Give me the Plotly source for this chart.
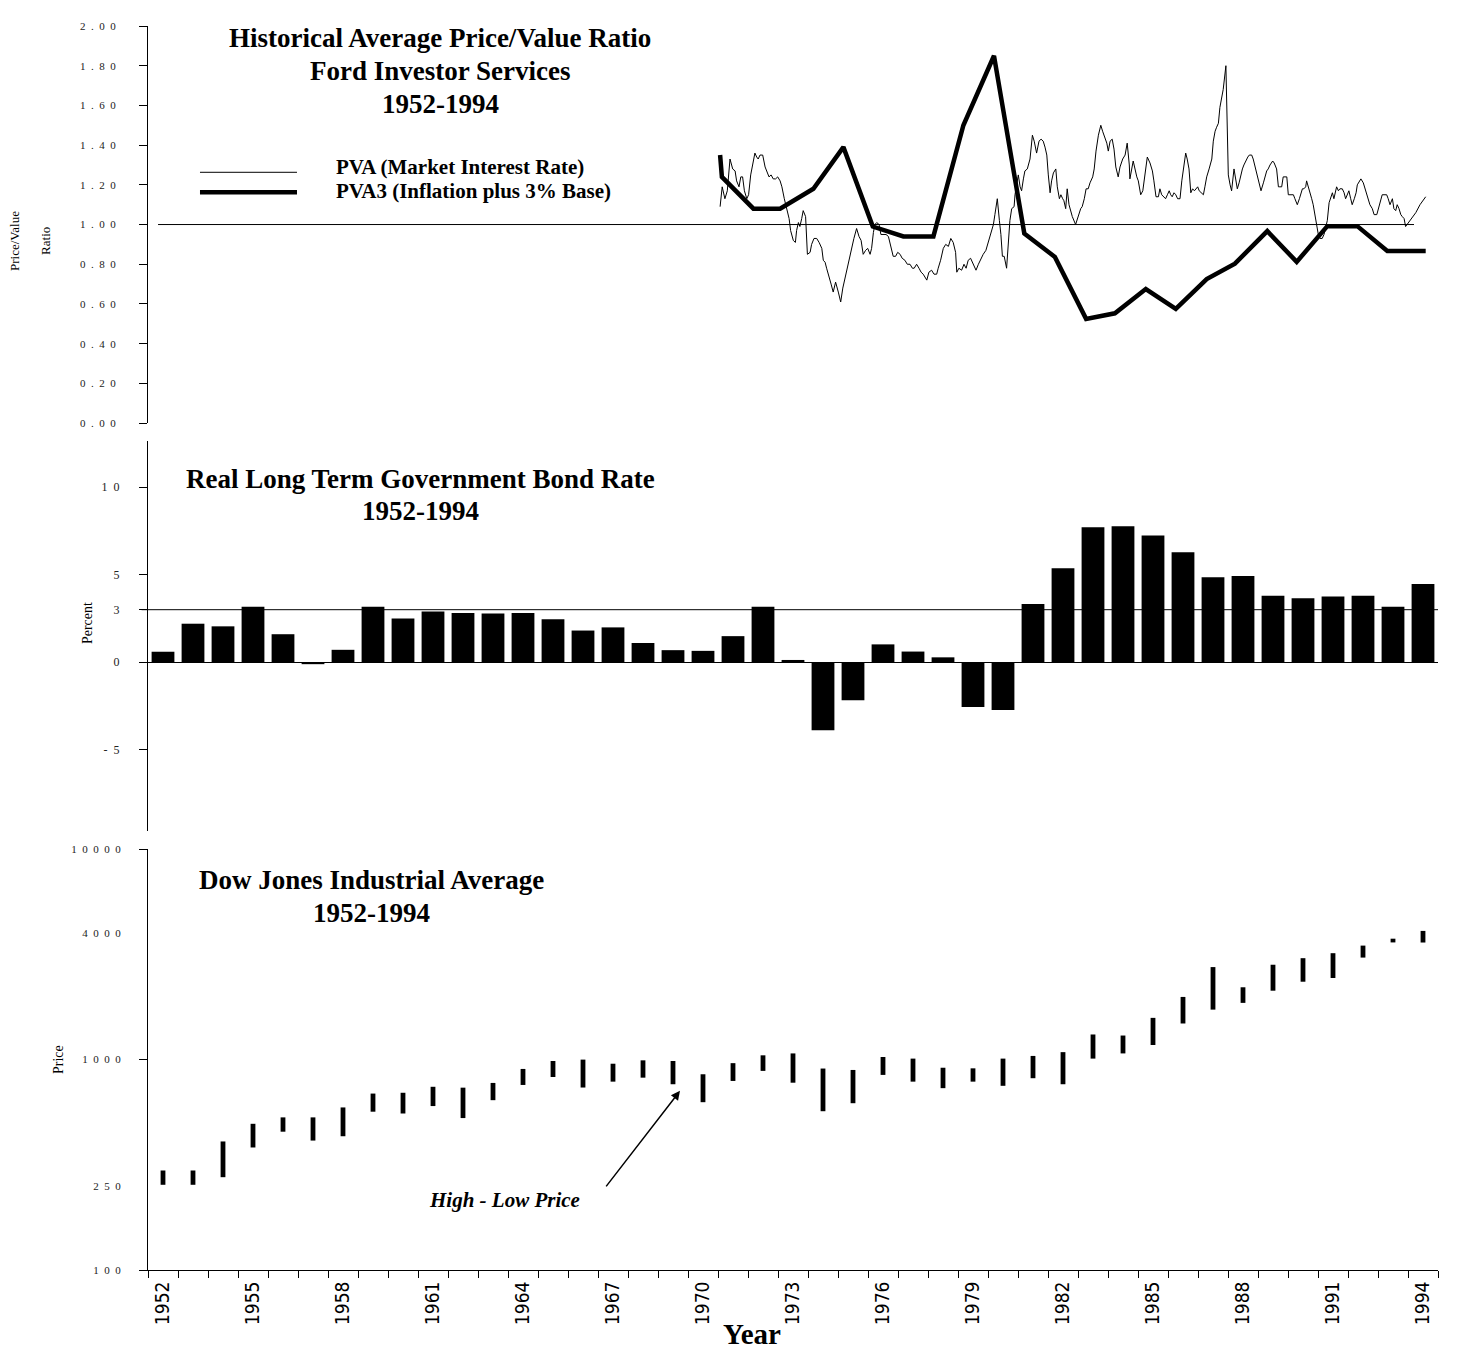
import plotly.graph_objects as go

# ---------------- data ----------------
years = list(range(1952, 1995))

# Real long term government bond rate (percent)
bond_rate = [0.60, 2.20, 2.05, 3.17, 1.60, -0.11, 0.71, 3.17, 2.50, 2.89,
             2.81, 2.78, 2.81, 2.46, 1.81, 1.99, 1.10, 0.69, 0.65, 1.49,
             3.17, 0.13, -3.88, -2.17, 1.02, 0.61, 0.28, -2.56, -2.72, 3.32,
             5.37, 7.70, 7.76, 7.24, 6.28, 4.85, 4.93, 3.80, 3.66, 3.76,
             3.80, 3.17, 4.46]

# Dow Jones Industrial Average yearly high / low
djia_high = [297, 297, 408, 495, 531, 531, 592, 689, 695, 742,
             735, 774, 902, 984, 999, 955, 991, 984, 851, 961,
             1047, 1069, 906, 892, 1028, 1010, 914, 908, 1010, 1040,
             1084, 1315, 1300, 1577, 1983, 2749, 2204, 2820, 3030, 3200,
             3477, 3750, 4083]
djia_low = [254, 254, 276, 382, 454, 412, 432, 565, 554, 601,
            527, 641, 757, 826, 736, 785, 820, 763, 627, 791,
            883, 776, 568, 620, 845, 785, 731, 785, 750, 815,
            763, 1010, 1069, 1172, 1483, 1726, 1858, 2123, 2342, 2440,
            3050, 3600, 3596]

# PVA (Market Interest Rate) - monthly-ish readings
pva_year = [1970.57, 1970.64, 1970.73, 1970.81, 1970.90, 1970.99, 1971.07, 1971.12, 1971.20, 1971.26,
            1971.32, 1971.38, 1971.46, 1971.52, 1971.59, 1971.66, 1971.73, 1971.79, 1971.84, 1971.90,
            1971.99, 1972.07, 1972.14, 1972.20, 1972.27, 1972.34, 1972.42, 1972.49, 1972.57, 1972.63,
            1972.71, 1972.79, 1972.87, 1972.92, 1973.01, 1973.08, 1973.12, 1973.18, 1973.23, 1973.29,
            1973.34, 1973.42, 1973.48, 1973.57, 1973.62, 1973.70, 1973.79, 1973.87, 1973.96, 1974.01,
            1974.07, 1974.12, 1974.20, 1974.27, 1974.34, 1974.42, 1974.51, 1974.59, 1974.66, 1974.73,
            1974.81, 1974.88, 1974.96, 1975.03, 1975.12, 1975.20, 1975.27, 1975.34, 1975.42, 1975.49,
            1975.57, 1975.62, 1975.68, 1975.73, 1975.79, 1975.87, 1975.93, 1976.01, 1976.10, 1976.18,
            1976.23, 1976.29, 1976.34, 1976.42, 1976.49, 1976.57, 1976.64, 1976.73, 1976.81, 1976.90,
            1976.98, 1977.04, 1977.12, 1977.20, 1977.27, 1977.34, 1977.46, 1977.53, 1977.62, 1977.70,
            1977.79, 1977.84, 1977.92, 1978.01, 1978.09, 1978.18, 1978.26, 1978.34, 1978.42, 1978.46,
            1978.53, 1978.62, 1978.70, 1978.77, 1978.84, 1978.92, 1979.01, 1979.10, 1979.18, 1979.26,
            1979.34, 1979.43, 1979.51, 1979.59, 1979.68, 1979.73, 1979.81, 1979.88, 1979.93, 1979.98,
            1980.04, 1980.12, 1980.18, 1980.23, 1980.29, 1980.37, 1980.40, 1980.46, 1980.51, 1980.57,
            1980.62, 1980.68, 1980.73, 1980.81, 1980.90, 1980.98, 1981.04, 1981.12, 1981.20, 1981.27,
            1981.34, 1981.40, 1981.46, 1981.51, 1981.57, 1981.62, 1981.68, 1981.76, 1981.81, 1981.88,
            1981.93, 1981.99, 1982.03, 1982.09, 1982.14, 1982.20, 1982.26, 1982.31, 1982.42, 1982.51,
            1982.59, 1982.64, 1982.71, 1982.77, 1982.84, 1982.90, 1982.99, 1983.04, 1983.10, 1983.18,
            1983.26, 1983.32, 1983.40, 1983.46, 1983.51, 1983.57, 1983.64, 1983.70, 1983.76, 1983.84,
            1983.90, 1983.99, 1984.07, 1984.14, 1984.21, 1984.23, 1984.34, 1984.40, 1984.46, 1984.51,
            1984.59, 1984.66, 1984.73, 1984.81, 1984.90, 1984.98, 1985.03, 1985.10, 1985.18, 1985.23,
            1985.29, 1985.34, 1985.42, 1985.48, 1985.54, 1985.59, 1985.64, 1985.70, 1985.76, 1985.82,
            1985.90, 1985.96, 1986.01, 1986.09, 1986.14, 1986.20, 1986.26, 1986.32, 1986.38, 1986.43,
            1986.49, 1986.54, 1986.62, 1986.68, 1986.73, 1986.79, 1986.87, 1986.96, 1987.01, 1987.07,
            1987.12, 1987.18, 1987.23, 1987.29, 1987.34, 1987.43, 1987.51, 1987.57, 1987.62, 1987.70,
            1987.76, 1987.81, 1987.87, 1987.92, 1987.98, 1988.03, 1988.09, 1988.16, 1988.21, 1988.29,
            1988.34, 1988.42, 1988.48, 1988.54, 1988.60, 1988.68, 1988.73, 1988.79, 1988.84, 1988.90,
            1988.99, 1989.04, 1989.12, 1989.18, 1989.23, 1989.29, 1989.34, 1989.40, 1989.46, 1989.51,
            1989.57, 1989.62, 1989.68, 1989.73, 1989.81, 1989.88, 1989.92, 1989.98, 1990.03, 1990.09,
            1990.12, 1990.18, 1990.23, 1990.29, 1990.34, 1990.40, 1990.46, 1990.51, 1990.57, 1990.64,
            1990.70, 1990.77, 1990.81, 1990.87, 1990.92, 1990.98, 1991.03, 1991.09, 1991.12, 1991.18,
            1991.23, 1991.31, 1991.37, 1991.42, 1991.48, 1991.53, 1991.59, 1991.64, 1991.71, 1991.77,
            1991.81, 1991.88, 1991.93, 1992.01, 1992.07, 1992.12, 1992.18, 1992.23, 1992.31, 1992.37,
            1992.46, 1992.51, 1992.57, 1992.64, 1992.70, 1992.79, 1992.84, 1992.90, 1992.98, 1993.03,
            1993.09, 1993.14, 1993.20, 1993.26, 1993.31, 1993.37, 1993.42, 1993.51, 1993.62, 1993.76,
            1993.90, 1994.09]
pva = [1.09, 1.19, 1.13, 1.17, 1.33, 1.28, 1.27, 1.22, 1.19, 1.24,
       1.24, 1.17, 1.13, 1.15, 1.25, 1.31, 1.36, 1.34, 1.33, 1.35,
       1.35, 1.29, 1.26, 1.24, 1.25, 1.23, 1.23, 1.24, 1.22, 1.19,
       1.13, 1.08, 1.03, 0.97, 0.92, 0.91, 0.97, 1.01, 0.99, 1.03,
       1.07, 1.04, 0.85, 0.86, 0.90, 0.93, 0.93, 0.91, 0.88, 0.82,
       0.81, 0.78, 0.73, 0.70, 0.66, 0.71, 0.66, 0.61, 0.68, 0.73,
       0.78, 0.84, 0.89, 0.93, 0.98, 0.94, 0.92, 0.85, 0.87, 0.88,
       0.85, 0.88, 0.96, 1.00, 1.01, 1.00, 0.95, 0.95, 0.95, 0.94,
       0.91, 0.88, 0.84, 0.84, 0.86, 0.85, 0.83, 0.82, 0.80, 0.80,
       0.78, 0.78, 0.80, 0.78, 0.76, 0.75, 0.72, 0.76, 0.77, 0.75,
       0.75, 0.78, 0.82, 0.88, 0.90, 0.89, 0.93, 0.91, 0.86, 0.76,
       0.78, 0.77, 0.80, 0.78, 0.82, 0.83, 0.80, 0.77, 0.80, 0.83,
       0.85, 0.87, 0.91, 0.95, 1.00, 1.05, 1.13, 1.02, 0.95, 0.84,
       0.84, 0.78, 0.92, 1.02, 1.08, 1.09, 1.15, 1.22, 1.25, 1.19,
       1.17, 1.23, 1.27, 1.28, 1.33, 1.45, 1.42, 1.36, 1.42, 1.43,
       1.42, 1.39, 1.35, 1.25, 1.16, 1.22, 1.26, 1.28, 1.19, 1.13,
       1.15, 1.13, 1.12, 1.08, 1.18, 1.10, 1.07, 1.04, 1.00, 1.04,
       1.08, 1.09, 1.13, 1.18, 1.18, 1.21, 1.24, 1.28, 1.37, 1.45,
       1.50, 1.47, 1.43, 1.41, 1.37, 1.42, 1.43, 1.38, 1.29, 1.24,
       1.29, 1.33, 1.35, 1.41, 1.30, 1.23, 1.32, 1.27, 1.24, 1.22,
       1.15, 1.17, 1.26, 1.34, 1.31, 1.27, 1.22, 1.14, 1.14, 1.18,
       1.15, 1.14, 1.13, 1.15, 1.17, 1.15, 1.14, 1.16, 1.15, 1.13,
       1.13, 1.22, 1.28, 1.36, 1.33, 1.28, 1.16, 1.18, 1.17, 1.18,
       1.19, 1.17, 1.16, 1.15, 1.19, 1.24, 1.28, 1.33, 1.42, 1.47,
       1.49, 1.51, 1.59, 1.64, 1.68, 1.80, 1.25, 1.20, 1.17, 1.28,
       1.22, 1.18, 1.21, 1.25, 1.28, 1.30, 1.32, 1.34, 1.35, 1.35,
       1.33, 1.28, 1.23, 1.20, 1.17, 1.21, 1.24, 1.27, 1.28, 1.30,
       1.32, 1.31, 1.28, 1.19, 1.19, 1.19, 1.24, 1.24, 1.24, 1.15,
       1.15, 1.15, 1.15, 1.13, 1.10, 1.13, 1.15, 1.18, 1.18, 1.19,
       1.22, 1.19, 1.17, 1.13, 1.10, 1.05, 0.99, 0.95, 0.93, 0.93,
       0.95, 1.00, 1.02, 1.11, 1.13, 1.16, 1.13, 1.17, 1.19, 1.17,
       1.18, 1.18, 1.16, 1.13, 1.15, 1.17, 1.13, 1.10, 1.13, 1.16,
       1.20, 1.22, 1.23, 1.21, 1.18, 1.16, 1.13, 1.10, 1.08, 1.05,
       1.05, 1.08, 1.12, 1.15, 1.15, 1.15, 1.13, 1.10, 1.13, 1.08,
       1.07, 1.10, 1.08, 1.05, 1.04, 1.03, 0.99, 1.01, 1.03, 1.06,
       1.10, 1.14]

# PVA3 (Inflation plus 3% Base)
pva3_year = [1970.57, 1970.63, 1971.68, 1972.57, 1973.68, 1974.68, 1975.66, 1976.68, 1977.68,
             1978.68, 1979.70, 1980.71, 1981.73, 1982.77, 1983.73, 1984.76, 1985.76, 1986.79,
             1987.73, 1988.81, 1989.79, 1990.81, 1991.81, 1992.81, 1994.09]
pva3 = [1.35, 1.24, 1.08, 1.08, 1.18, 1.39, 0.99, 0.94, 0.94,
        1.50, 1.85, 0.955, 0.837, 0.525, 0.553, 0.675, 0.575, 0.725,
        0.803, 0.967, 0.812, 0.992, 0.992, 0.867, 0.867]

label_years = years[::3]
ratio_ticks = [0.0, 0.2, 0.4, 0.6, 0.8, 1.0, 1.2, 1.4, 1.6, 1.8, 2.0]
bond_ticks = [-5, 0, 3, 5, 10]
price_ticks = [100, 250, 1000, 4000, 10000]
price_major = [100, 1000, 10000]

GAP = "\u00a0\u00a0"


def spaced(s):
    return GAP.join(s)


SERIF = "Liberation Serif, Times New Roman, serif"
NARROW = "Liberation Sans Narrow, Arial Narrow, DejaVu Sans Condensed, sans-serif"

fig = go.Figure()

# top panel
fig.add_trace(go.Scatter(x=pva_year, y=pva, mode="lines", yaxis="y",
                         line=dict(color="black", width=1), showlegend=False))
fig.add_trace(go.Scatter(x=pva3_year, y=pva3, mode="lines", yaxis="y",
                         line=dict(color="black", width=4.5), showlegend=False))

# middle panel
fig.add_trace(go.Bar(x=years, y=bond_rate, yaxis="y2", width=0.76,
                     marker=dict(color="black", line=dict(width=0)), showlegend=False))

# bottom panel: high-low lines
hx, hy = [], []
for yr, hi, lo in zip(years, djia_high, djia_low):
    hx += [yr, yr, None]
    hy += [lo, hi, None]
fig.add_trace(go.Scatter(x=hx, y=hy, mode="lines", yaxis="y3",
                         line=dict(color="black", width=4.8), showlegend=False,
                         connectgaps=False))

tickfont = dict(family=SERIF, size=11, color="#222")

# the page adds an 8px body margin, so the figure is 8px smaller than the window
fig.update_layout(
    width=1451, height=1344,
    margin=dict(l=140, r=21, t=12, b=82),
    paper_bgcolor="white", plot_bgcolor="white",
    font=dict(family=SERIF, color="black"),
    bargap=0.2,
    xaxis=dict(
        range=[1951.5, 1994.5], anchor="y3",
        showline=True, linecolor="black", linewidth=1,
        showgrid=False, zeroline=False,
        tickmode="array", tickvals=label_years, ticktext=[str(y) for y in label_years],
        tickangle=-90, ticks="", ticklabelstandoff=3,
        tickfont=dict(family=NARROW, size=19, color="black"),
        minor=dict(tickmode="array", tickvals=[y - 0.5 for y in years] + [years[-1] + 0.5],
                   ticks="outside", ticklen=7, tickcolor="black", tickwidth=1, showgrid=False),
    ),
    yaxis=dict(
        domain=[0.6808, 1.0], range=[0, 2], anchor="x",
        showline=True, linecolor="black", linewidth=1, showgrid=False, zeroline=False,
        tickmode="array", tickvals=ratio_ticks,
        ticktext=[spaced(f"{v:.2f}") for v in ratio_ticks],
        ticks="outside", ticklen=8, tickcolor="black", tickfont=tickfont,
        ticklabelstandoff=21,
    ),
    yaxis2=dict(
        domain=[0.3528, 0.6664], range=[-9.64, 12.63], anchor="x",
        showline=True, linecolor="black", linewidth=1, showgrid=False,
        zeroline=True, zerolinecolor="black", zerolinewidth=1,
        tickmode="array", tickvals=bond_ticks,
        ticktext=[spaced(str(v)) for v in bond_ticks],
        ticks="outside", ticklen=8, tickcolor="black", tickfont=dict(family=SERIF, size=12, color="#222"),
        ticklabelstandoff=17,
    ),
    yaxis3=dict(
        domain=[0.0, 0.3384], type="log", range=[2, 4], anchor="x",
        showline=True, linecolor="black", linewidth=1, showgrid=False, zeroline=False,
        tickmode="array", tickvals=price_ticks,
        ticktext=[spaced(str(v)) for v in price_ticks],
        ticks="", tickfont=tickfont, ticklabelstandoff=24,
        minor=dict(tickmode="array", tickvals=price_major, ticks="outside",
                   ticklen=8, tickcolor="black", tickwidth=1, showgrid=False),
    ),
)

shapes = [
    # 1.00 reference line in top panel
    dict(type="line", xref="paper", yref="y", x0=0.0078, x1=0.9814, y0=1, y1=1,
         line=dict(color="black", width=1)),
    # 3% reference line in middle panel
    dict(type="line", xref="paper", yref="y2", x0=-0.005, x1=1.0, y0=3, y1=3,
         line=dict(color="black", width=1)),
    # legend samples
    dict(type="line", xref="paper", yref="paper", x0=0.0403, x1=0.1155, y0=0.8824, y1=0.8824,
         line=dict(color="black", width=1)),
    dict(type="line", xref="paper", yref="paper", x0=0.0403, x1=0.1155, y0=0.8664, y1=0.8664,
         line=dict(color="black", width=4.5)),
]
fig.update_layout(shapes=shapes)

title_font = dict(family=SERIF, size=27, color="black")
ann = []


def add_text(text, x, y, font, xanchor="center", textangle=0):
    ann.append(dict(text=text, x=x, y=y, xref="paper", yref="paper", showarrow=False,
                    xanchor=xanchor, yanchor="middle", font=font, textangle=textangle))


add_text("<b>Historical Average Price/Value Ratio</b>", 0.2264, 0.9904, title_font)
add_text("<b>Ford Investor Services</b>", 0.2264, 0.964, title_font)
add_text("<b>1952-1994</b>", 0.2264, 0.9376, title_font)
add_text("<b>PVA (Market Interest Rate)</b>", 0.1442, 0.8864, dict(family=SERIF, size=21), "left")
add_text("<b>PVA3 (Inflation plus 3% Base)</b>", 0.1442, 0.8672, dict(family=SERIF, size=21), "left")
add_text("<b>Real Long Term Government Bond Rate</b>", 0.2116, 0.636, title_font)
add_text("<b>1952-1994</b>", 0.2116, 0.6104, title_font)
add_text("<b>Dow Jones Industrial Average</b>", 0.1736, 0.3136, title_font)
add_text("<b>1952-1994</b>", 0.1736, 0.2872, title_font)
add_text("<b><i>High - Low Price</i></b>", 0.2767, 0.056, dict(family=SERIF, size=21))
add_text("<b>Year</b>", 0.468, -0.0512, dict(family=SERIF, size=29))
add_text("Price/Value", -0.1031, 0.8272, dict(family=SERIF, size=13), textangle=-90)
add_text("Ratio", -0.0791, 0.8272, dict(family=SERIF, size=13), textangle=-90)
add_text("Percent", -0.0473, 0.52, dict(family=SERIF, size=14), textangle=-90)
add_text("Price", -0.0698, 0.1696, dict(family=SERIF, size=14), textangle=-90)

ann.append(dict(x=0.4124, y=0.144, xref="paper", yref="paper", ax=-75, ay=97,
                showarrow=True, arrowhead=2, arrowsize=1.2, arrowwidth=1.5, arrowcolor="black", text=""))

fig.update_layout(annotations=ann)

fig.write_html("out.html")
